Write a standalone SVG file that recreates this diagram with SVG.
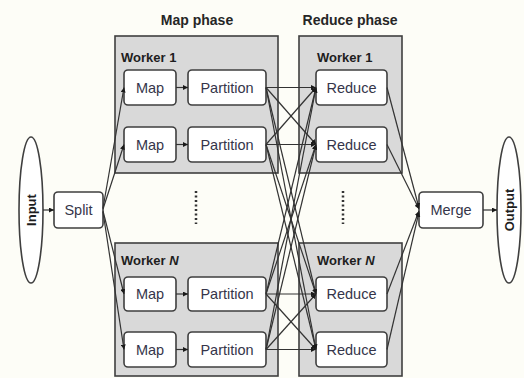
<svg xmlns="http://www.w3.org/2000/svg" width="524" height="378" viewBox="0 0 524 378">
<defs>
<marker id="ah" viewBox="0 0 10 10" refX="10" refY="5" markerWidth="5" markerHeight="5" orient="auto" markerUnits="userSpaceOnUse">
<path d="M0,0 L10,5 L0,10 z" fill="#1a1a1a"/>
</marker>
</defs>
<style>
.bg{fill:#fdfdf7}
.worker{fill:#d9d9d9;stroke:#3f3f3f;stroke-width:1.6}
.node{fill:#ffffff;stroke:#3f3f3f;stroke-width:1.6}
.ell{fill:#ffffff;stroke:#3f3f3f;stroke-width:1.6}
.t{font-family:"Liberation Sans",Arial,sans-serif;font-size:14.5px;fill:#35354a;text-anchor:middle;dominant-baseline:central}
.title{font-family:"Liberation Sans",Arial,sans-serif;font-size:14px;font-weight:bold;fill:#262626;text-anchor:middle}
.wl{font-family:"Liberation Sans",Arial,sans-serif;font-size:13px;font-weight:bold;fill:#1e1e1e}
.io{font-family:"Liberation Sans",Arial,sans-serif;font-size:13px;font-weight:bold;fill:#1e1e1e;text-anchor:middle;dominant-baseline:central}
.c{stroke:#333333;stroke-width:1.2;fill:none;marker-end:url(#ah)}
.dots{stroke:#333333;stroke-width:2.5;stroke-dasharray:2 2.5;fill:none}
</style>
<rect class="bg" x="0" y="0" width="524" height="378"/>

<text class="title" x="197" y="25">Map phase</text>
<text class="title" x="350" y="25">Reduce phase</text>

<g id="map-worker-1">
<rect class="worker" x="115" y="36" width="163" height="137"/>
<text class="wl" x="121" y="62">Worker 1</text>
</g>
<g id="map-worker-n">
<rect class="worker" x="115" y="243" width="163" height="133"/>
<text class="wl" x="121" y="265">Worker <tspan font-style="italic">N</tspan></text>
</g>
<g id="reduce-worker-1">
<rect class="worker" x="299" y="36" width="103" height="137"/>
<text class="wl" x="317" y="62">Worker 1</text>
</g>
<g id="reduce-worker-n">
<rect class="worker" x="299" y="243" width="103" height="133"/>
<text class="wl" x="317" y="265">Worker <tspan font-style="italic">N</tspan></text>
</g>

<g id="input"><ellipse class="ell" cx="31" cy="210" rx="12" ry="73"/><text class="io" transform="translate(31,210) rotate(-90)">Input</text></g>
<g id="output"><ellipse class="ell" cx="509" cy="210" rx="12" ry="73"/><text class="io" transform="translate(509,210) rotate(-90)">Output</text></g>

<g id="split"><rect class="node" x="54" y="192" width="49" height="36" rx="4"/><text class="t" x="78.5" y="210">Split</text></g>
<g id="merge"><rect class="node" x="419" y="192" width="64" height="36" rx="4"/><text class="t" x="451" y="210">Merge</text></g>

<g id="map-1"><rect class="node" x="124" y="70" width="52" height="35" rx="4"/><text class="t" x="150" y="88">Map</text></g>
<g id="map-2"><rect class="node" x="124" y="127" width="52" height="35" rx="4"/><text class="t" x="150" y="145">Map</text></g>
<g id="map-3"><rect class="node" x="124" y="277" width="52" height="34" rx="4"/><text class="t" x="150" y="294">Map</text></g>
<g id="map-4"><rect class="node" x="124" y="332" width="52" height="35" rx="4"/><text class="t" x="150" y="350">Map</text></g>

<g id="partition-1"><rect class="node" x="188" y="70" width="78" height="35" rx="4"/><text class="t" x="227" y="88">Partition</text></g>
<g id="partition-2"><rect class="node" x="188" y="127" width="78" height="35" rx="4"/><text class="t" x="227" y="145">Partition</text></g>
<g id="partition-3"><rect class="node" x="188" y="277" width="78" height="34" rx="4"/><text class="t" x="227" y="294">Partition</text></g>
<g id="partition-4"><rect class="node" x="188" y="332" width="78" height="35" rx="4"/><text class="t" x="227" y="350">Partition</text></g>

<g id="reduce-1"><rect class="node" x="316" y="70" width="71" height="35" rx="4"/><text class="t" x="351.5" y="88">Reduce</text></g>
<g id="reduce-2"><rect class="node" x="316" y="127" width="71" height="35" rx="4"/><text class="t" x="351.5" y="145">Reduce</text></g>
<g id="reduce-3"><rect class="node" x="316" y="277" width="71" height="34" rx="4"/><text class="t" x="351.5" y="294">Reduce</text></g>
<g id="reduce-4"><rect class="node" x="316" y="332" width="71" height="35" rx="4"/><text class="t" x="351.5" y="350">Reduce</text></g>

<g id="ellipsis">
<line class="dots" x1="196" y1="191" x2="196" y2="224"/>
<line class="dots" x1="343" y1="191" x2="343" y2="224"/>
</g>

<g id="connectors">
<line class="c" x1="43" y1="210" x2="54" y2="210"/>
<line class="c" x1="483" y1="210" x2="497" y2="210"/>
<line class="c" x1="103" y1="208" x2="124" y2="87.5"/>
<line class="c" x1="103" y1="209" x2="124" y2="144.5"/>
<line class="c" x1="103" y1="211" x2="124" y2="294"/>
<line class="c" x1="103" y1="212" x2="124" y2="349.5"/>
<line class="c" x1="176" y1="87.5" x2="188" y2="87.5"/>
<line class="c" x1="176" y1="144.5" x2="188" y2="144.5"/>
<line class="c" x1="176" y1="294" x2="188" y2="294"/>
<line class="c" x1="176" y1="349.5" x2="188" y2="349.5"/>

<line class="c" x1="266" y1="87.5" x2="316" y2="87.5"/>
<line class="c" x1="266" y1="87.5" x2="316" y2="144.5"/>
<line class="c" x1="266" y1="87.5" x2="316" y2="294"/>
<line class="c" x1="266" y1="87.5" x2="316" y2="349.5"/>
<line class="c" x1="266" y1="144.5" x2="316" y2="87.5"/>
<line class="c" x1="266" y1="144.5" x2="316" y2="144.5"/>
<line class="c" x1="266" y1="144.5" x2="316" y2="294"/>
<line class="c" x1="266" y1="144.5" x2="316" y2="349.5"/>
<line class="c" x1="266" y1="294" x2="316" y2="87.5"/>
<line class="c" x1="266" y1="294" x2="316" y2="144.5"/>
<line class="c" x1="266" y1="294" x2="316" y2="294"/>
<line class="c" x1="266" y1="294" x2="316" y2="349.5"/>
<line class="c" x1="266" y1="349.5" x2="316" y2="87.5"/>
<line class="c" x1="266" y1="349.5" x2="316" y2="144.5"/>
<line class="c" x1="266" y1="349.5" x2="316" y2="294"/>
<line class="c" x1="266" y1="349.5" x2="316" y2="349.5"/>

<line class="c" x1="387" y1="87.5" x2="419" y2="208"/>
<line class="c" x1="387" y1="144.5" x2="419" y2="209"/>
<line class="c" x1="387" y1="294" x2="419" y2="211"/>
<line class="c" x1="387" y1="349.5" x2="419" y2="212"/>
</g>
</svg>
